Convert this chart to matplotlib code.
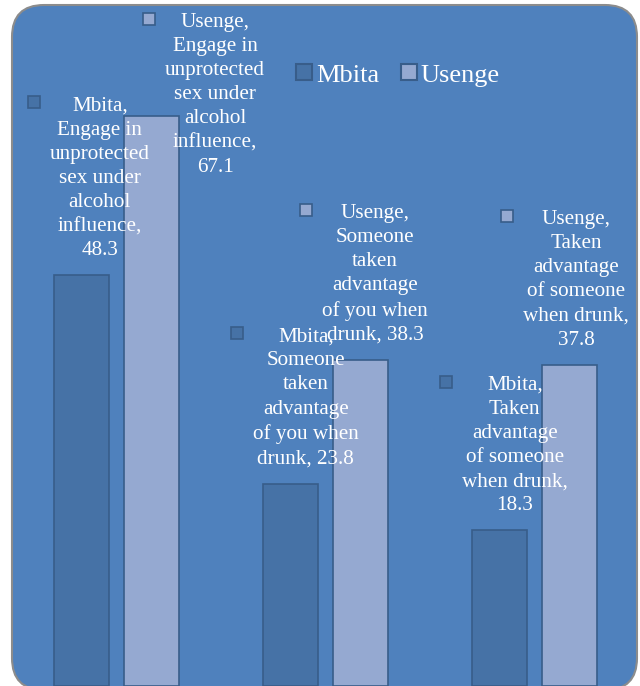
import numpy as np
import matplotlib
matplotlib.use("Agg")
from matplotlib import pyplot as plt
from matplotlib.patches import FancyBboxPatch
from matplotlib.lines import Line2D

categories = ["Engage in\nunprotected\nsex under\nalcohol\ninfluence",
              "Someone\ntaken\nadvantage\nof you when\ndrunk",
              "Taken\nadvantage\nof someone\nwhen drunk"]
series = ["Mbita", "Usenge"]
mbita = [48.3, 23.8, 18.3]
usenge = [67.1, 38.3, 37.8]

# label texts as laid out in the source chart
labels_mbita = ["Mbita,\nEngage in\nunprotected\nsex under\nalcohol\ninfluence,\n48.3",
                "Mbita,\nSomeone\ntaken\nadvantage\nof you when\ndrunk, 23.8",
                "Mbita,\nTaken\nadvantage\nof someone\nwhen drunk,\n18.3"]
labels_usenge = ["Usenge,\nEngage in\nunprotected\nsex under\nalcohol\ninfluence,\n67.1",
                 "Usenge,\nSomeone\ntaken\nadvantage\nof you when\ndrunk, 38.3",
                 "Usenge,\nTaken\nadvantage\nof someone\nwhen drunk,\n37.8"]
# pixel offsets of the label centre from the bar top
off_mbita = [(18, 97), (15, 86), (15, 85)]
off_usenge = [(64, 21), (15, 86), (7, 85)]

BG = "#4F81BD"
C_MB = "#4672A6"
C_US = "#95A9D1"
EDGE = "#385D8A"

plt.rcParams['font.family'] = ['Liberation Serif', 'DejaVu Serif']

W, H = 640, 686
fig = plt.figure(figsize=(W / 100, H / 100), dpi=100)
fig.patch.set_facecolor("white")

# rounded chart frame, in inches (1 in = 100 px)
frame = FancyBboxPatch((0.12, -0.04), 6.25, 6.85,
                       boxstyle="round,pad=0,rounding_size=0.32",
                       transform=fig.dpi_scale_trans, facecolor=BG,
                       edgecolor="#8C8C8C", linewidth=1.5, zorder=-1)
fig.patches.append(frame)

ax = fig.add_axes([12 / W, 0, 627 / W, 680 / H], zorder=1)
ax.set_facecolor("none")
for s in ax.spines.values():
    s.set_visible(False)
ax.set_xticks([])
ax.set_yticks([])
ax.set_xlim(-0.5, 2.5)
ax.set_ylim(0, 80)

x = np.arange(len(categories))
bw = 0.265
b1 = ax.bar(x - 0.166, mbita, bw, color=C_MB, edgecolor=EDGE, linewidth=1.2,
            label=series[0], zorder=2)
b2 = ax.bar(x + 0.166, usenge, bw, color=C_US, edgecolor=EDGE, linewidth=1.2,
            label=series[1], zorder=2)

texts = []
for xs, vals, labs, offs, col in [(x - 0.166, mbita, labels_mbita, off_mbita, C_MB),
                                  (x + 0.166, usenge, labels_usenge, off_usenge, C_US)]:
    for xi, v, lab, (dx, dy) in zip(xs, vals, labs, offs):
        t = ax.annotate(lab, (xi, v), xytext=(dx, dy), textcoords="offset pixels",
                        ha="center", va="center", multialignment="center",
                        color="white", fontsize=15.2, linespacing=1.37, zorder=4)
        texts.append((t, col))

fig.canvas.draw()
r = fig.canvas.get_renderer()
inv = ax.transData.inverted()
for t, col in texts:
    bb = t.get_window_extent(r)
    px, py = inv.transform((bb.x0 - 16, bb.y1 - 6))
    ax.plot([px], [py], marker="s", markersize=8, markerfacecolor=col,
            markeredgecolor=EDGE, markeredgewidth=1.2, linestyle="none",
            zorder=4, clip_on=False)

handles = [Line2D([], [], marker="s", markersize=11, markerfacecolor=C_MB,
                  markeredgecolor=EDGE, markeredgewidth=1.5, linestyle="none"),
           Line2D([], [], marker="s", markersize=11, markerfacecolor=C_US,
                  markeredgecolor=EDGE, markeredgewidth=1.5, linestyle="none")]
leg = fig.legend(handles, series, loc="center left",
                 bbox_to_anchor=(296 / W, 1 - 75 / H), ncol=2, frameon=False,
                 fontsize=19, handlelength=0.6, handletextpad=0.15,
                 columnspacing=0.83, borderpad=0, borderaxespad=0)
for tx in leg.get_texts():
    tx.set_color("white")

fig.savefig("out.png", dpi=100, facecolor="white")
